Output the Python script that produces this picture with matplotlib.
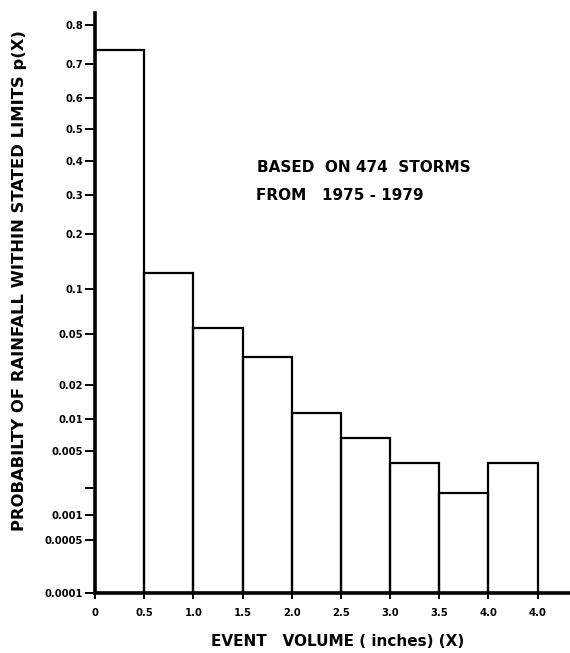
import math

import matplotlib
matplotlib.use("Agg")
import matplotlib.pyplot as plt
import numpy as np

# Event volume classes (inches) and probability of rainfall within each class
bin_left = [0.0, 0.5, 1.0, 1.5, 2.0, 2.5, 3.0, 3.5, 4.0]
probability = [0.739, 0.124, 0.0554, 0.0338, 0.0114, 0.0066, 0.0037, 0.00176, 0.0037]

x_ticks = [0.0, 0.5, 1.0, 1.5, 2.0, 2.5, 3.0, 3.5, 4.0, 4.5]
x_tick_labels = ["0", "0.5", "1.0", "1.5", "2.0", "2.5", "3.0", "3.5", "4.0", "4.0"]

y_ticks = [0.0001, 0.0005, 0.001, 0.002, 0.005, 0.01, 0.02, 0.05,
           0.1, 0.2, 0.3, 0.4, 0.5, 0.6, 0.7, 0.8]
y_tick_labels = ["0.0001", "0.0005", "0.001", "", "0.005", "0.01", "0.02", "0.05",
                 "0.1", "0.2", "0.3", "0.4", "0.5", "0.6", "0.7", "0.8"]

W, H = 570, 653

_erf = np.vectorize(math.erf, otypes=[float])


def norm_cdf(z):
    return 0.5 * (1.0 + _erf(np.asarray(z, float) / math.sqrt(2.0)))


def norm_ppf(p):
    # bisection on the normal cdf, good enough for axis transforms
    p = np.clip(np.asarray(p, float), 1e-12, 1 - 1e-12)
    lo = np.full(p.shape, -8.0)
    hi = np.full(p.shape, 8.0)
    for _ in range(55):
        mid = 0.5 * (lo + hi)
        below = norm_cdf(mid) < p
        lo = np.where(below, mid, lo)
        hi = np.where(below, hi, mid)
    return 0.5 * (lo + hi)


def fx(px):
    return px / W


def fy(py):
    return 1 - py / H


fig = plt.figure(figsize=(W / 100, H / 100), dpi=100)
ax = fig.add_axes([fx(95), fy(593), 1 - fx(95), fy(13) - fy(593)])

# normal probability scale on y
ax.set_yscale("function", functions=(norm_ppf, norm_cdf))
ax.set_ylim(0.0001, 0.825)
ax.set_xlim(0, 4.83)

ax.bar(bin_left, [p - 0.0001 for p in probability], width=0.5, bottom=0.0001,
       align="edge", fill=False, edgecolor="black", linewidth=1.6)

for side in ["top", "right"]:
    ax.spines[side].set_visible(False)
for side in ["left", "bottom"]:
    ax.spines[side].set_linewidth(2.6)

tick_font = dict(family="DejaVu Sans", weight="bold", size=7.2)
ax.set_yticks(y_ticks)
ax.set_yticklabels(y_tick_labels, **tick_font)
ax.yaxis.set_minor_locator(matplotlib.ticker.NullLocator())
ax.set_xticks(x_ticks)
ax.set_xticklabels(x_tick_labels, **tick_font)
ax.tick_params(axis="y", direction="out", length=7, width=1.4, pad=1.5)
ax.tick_params(axis="x", direction="inout", length=8, width=1.4, pad=7)

label_font = dict(family="DejaVu Sans", weight="bold")
fig.text(fx(20), fy(281), "PROBABILTY OF RAINFALL WITHIN STATED LIMITS p(X)",
         rotation=90, ha="center", va="center", size=11.8, **label_font)
fig.text(fx(338), fy(641), "EVENT   VOLUME ( inches) (X)",
         ha="center", va="center", size=11, **label_font)

fig.text(fx(257), fy(167), "BASED  ON 474  STORMS", ha="left", va="center",
         size=11, **label_font)
fig.text(fx(256), fy(195), "FROM   1975 - 1979", ha="left", va="center",
         size=11, **label_font)

fig.savefig("out.png", dpi=100)
